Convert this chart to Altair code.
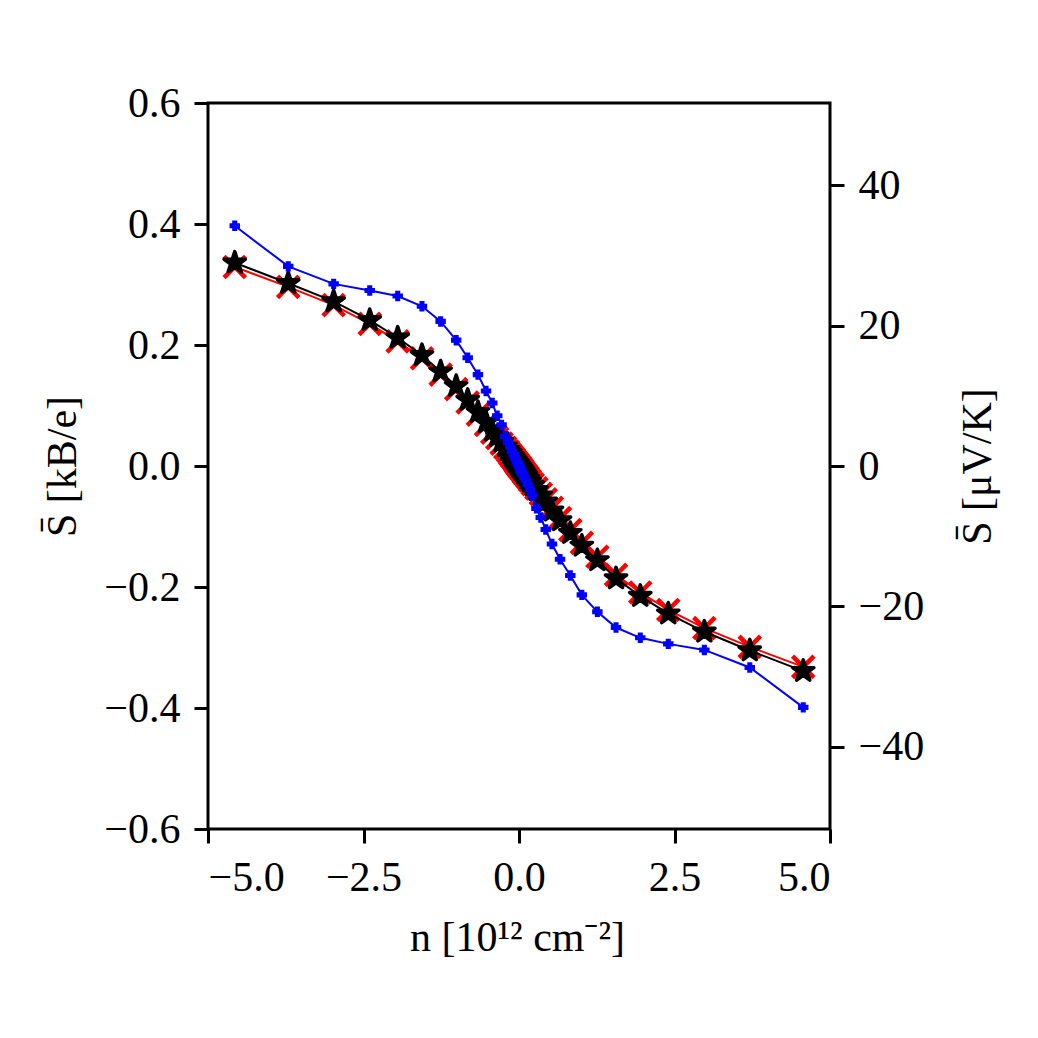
import altair as alt
import pandas as pd

# density n [10^12 cm^-2]
n_vals = [-4.57, -3.71, -2.98, -2.40, -1.95, -1.56, -1.26, -1.01, -0.825, -0.66,
          -0.53, -0.43, -0.35, -0.28, -0.22, -0.175, -0.14, -0.11, -0.085, -0.065,
          -0.048, -0.034, -0.022, -0.012, -0.004,
          0.004, 0.012, 0.022, 0.034, 0.048, 0.065, 0.085, 0.11, 0.14, 0.175,
          0.22, 0.28, 0.35, 0.43, 0.53, 0.66, 0.825, 1.01, 1.26, 1.56,
          1.95, 2.40, 2.98, 3.71, 4.57]

# blue series
s_blue = [0.397, 0.330, 0.301, 0.290, 0.281, 0.264, 0.239, 0.208, 0.179, 0.151,
          0.124, 0.104, 0.083, 0.068, 0.049, 0.039, 0.031, 0.024, 0.019, 0.014,
          0.011, 0.0075, 0.005, 0.0027, 0.0009,
          -0.0009, -0.0027, -0.005, -0.0075, -0.011, -0.014, -0.019, -0.024, -0.031, -0.039,
          -0.049, -0.070, -0.085, -0.105, -0.129, -0.154, -0.181, -0.213, -0.241, -0.267,
          -0.284, -0.294, -0.304, -0.333, -0.399]

# black series (stars)
s_black = [0.336, 0.302, 0.272, 0.241, 0.212, 0.183, 0.156, 0.132, 0.109, 0.089,
           0.072, 0.058, 0.049, 0.040, 0.032, 0.026, 0.021, 0.016, 0.0125, 0.0095,
           0.007, 0.005, 0.0032, 0.0018, 0.0006,
           -0.0006, -0.0018, -0.0032, -0.005, -0.007, -0.0095, -0.0125, -0.016, -0.021, -0.026,
           -0.032, -0.040, -0.049, -0.059, -0.074, -0.090, -0.111, -0.132, -0.156, -0.186,
           -0.215, -0.244, -0.274, -0.305, -0.339]

# red series (x markers)
s_red = [0.329, 0.296, 0.266, 0.235, 0.206, 0.178, 0.151, 0.127, 0.105, 0.085,
         0.068, 0.055, 0.046, 0.037, 0.030, 0.024, 0.019, 0.015, 0.012, 0.009,
         0.0065, 0.0045, 0.003, 0.0016, 0.0005,
         -0.0005, -0.0016, -0.003, -0.0045, -0.0065, -0.009, -0.012, -0.015, -0.019, -0.024,
         -0.030, -0.037, -0.046, -0.055, -0.069, -0.086, -0.106, -0.127, -0.150, -0.180,
         -0.209, -0.238, -0.268, -0.299, -0.332]

left_ticks = [-0.6, -0.4, -0.2, 0.0, 0.2, 0.4, 0.6]
x_ticks = [-5.0, -2.5, 0.0, 2.5, 5.0]
right_ticks = [-40, -20, 0, 20, 40]
kB_over_e_uV = 86.17

FONT = "Liberation Serif"
FS = 42

df = pd.DataFrame({"n": n_vals, "blue": s_blue, "black": s_black, "red": s_red})
df_right = pd.DataFrame({"r": right_ticks})

xenc = alt.X("n:Q", scale=alt.Scale(domain=[-5, 5], nice=False),
             axis=alt.Axis(values=x_ticks, format=".1f", title="n [10¹² cm⁻²]",
                           titleX=309, titleY=121, titleAlign="center",
                           titleBaseline="alphabetic"))

def yenc(field):
    return alt.Y(f"{field}:Q", scale=alt.Scale(domain=[-0.6, 0.6], nice=False),
                 axis=alt.Axis(values=left_ticks, format=".1f", title="S̄ [kB/e]",
                               titleAngle=270, titleX=-133, titleY=363,
                               titleAlign="center", titleBaseline="alphabetic"))

star = ("M0,-1L0.2245,-0.309L0.951,-0.309L0.363,0.118L0.588,0.809L0,0.382"
        "L-0.588,0.809L-0.363,0.118L-0.951,-0.309L-0.2245,-0.309Z")
xshape = "M-1,-1L1,1M-1,1L1,-1"

base = alt.Chart(df)

red_line = base.mark_line(color="red", strokeWidth=2).encode(x=xenc, y=yenc("red"))
red_pts = base.mark_point(shape=xshape, filled=False, color="red", strokeWidth=4.5,
                          size=460, opacity=1).encode(x=xenc, y=yenc("red"))
black_line = base.mark_line(color="black", strokeWidth=2).encode(x=xenc, y=yenc("black"))
black_pts = base.mark_point(shape=star, filled=True, color="black", stroke="black",
                            strokeWidth=3.5, strokeJoin="round", size=500,
                            opacity=1).encode(x=xenc, y=yenc("black"))
blue_line = base.mark_line(color="blue", strokeWidth=2).encode(x=xenc, y=yenc("blue"))
blue_pts = base.mark_point(shape="cross", filled=True, color="blue", stroke="blue",
                           strokeWidth=1.5, size=80, opacity=1).encode(x=xenc, y=yenc("blue"))

left_layer = alt.layer(red_line, red_pts, black_line, black_pts, blue_line, blue_pts)

lim = 0.6 * kB_over_e_uV
right_layer = alt.Chart(df_right).mark_point(opacity=0).encode(
    y=alt.Y("r:Q", scale=alt.Scale(domain=[-lim, lim], nice=False),
            axis=alt.Axis(orient="right", values=right_ticks, format="d",
                          title="S̄ [μV/K]", titleAngle=270, titleX=160, titleY=363,
                          titleAlign="center", titleBaseline="alphabetic"))
)

chart = alt.layer(left_layer, right_layer).resolve_scale(y="independent").properties(
    width=622, height=726,
    padding={"left": 200, "top": 95, "right": 200, "bottom": 200},
    autosize="none",
).configure_view(stroke="black", strokeWidth=3).configure_axis(
    grid=False, domain=False, ticks=True, tickSize=14, tickWidth=3, tickColor="black",
    labelFont=FONT, labelFontSize=FS, labelColor="black", labelPadding=14,
    titleFont=FONT, titleFontSize=FS, titleColor="black", titleFontWeight="normal",
)

chart.save("out.html", embed_options={"renderer": "svg", "actions": False})
